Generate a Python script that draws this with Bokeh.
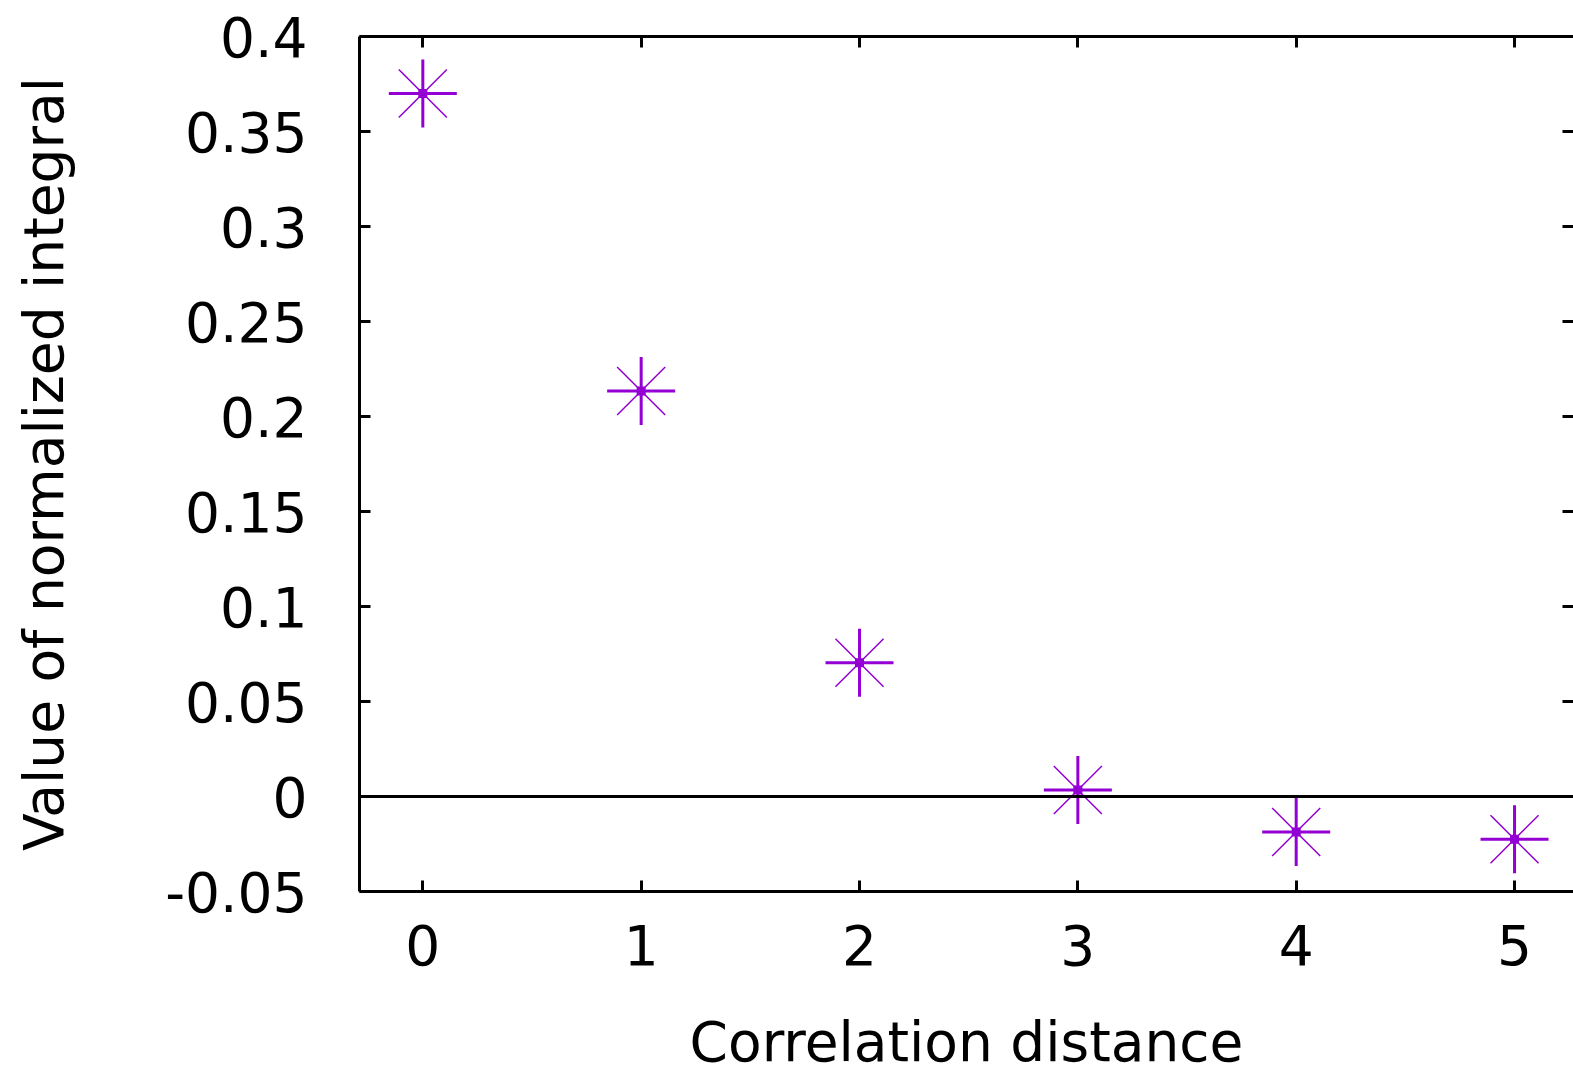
from bokeh.plotting import figure
from bokeh.models import LinearAxis, FixedTicker, Range1d, Span
from bokeh.embed import file_html
from bokeh.resources import INLINE

# ---- data ----
distance = [0, 1, 2, 3, 4, 5]
integral = [0.370, 0.2134, 0.0704, 0.0034, -0.0187, -0.0225]

x_ticks = [0, 1, 2, 3, 4, 5]
x_tick_labels = ["0", "1", "2", "3", "4", "5"]
y_ticks = [-0.05, 0, 0.05, 0.1, 0.15, 0.2, 0.25, 0.3, 0.35, 0.4]
y_tick_labels = ["-0.05", "0", "0.05", "0.1", "0.15", "0.2", "0.25", "0.3", "0.35", "0.4"]

x_title = "Correlation distance"
y_title = "Value of normalized integral"

VIOLET = "#9400D3"
FONT = "DejaVu Sans"
FS = "55px"

p = figure(width=1573, height=1077, output_backend="svg", toolbar_location=None,
           x_range=Range1d(-0.29, 5.27), y_range=Range1d(-0.05, 0.4))
p.min_border_left = 359
p.min_border_right = 0
p.min_border_top = 36
p.min_border_bottom = 186
p.outline_line_color = None
p.grid.visible = False
p.background_fill_color = "white"
p.border_fill_color = "white"


def style_axis(ax, ticks, labels, show_labels=True, line=True):
    ax.ticker = FixedTicker(ticks=ticks)
    ax.axis_line_color = "black" if line else None
    ax.axis_line_width = 3
    ax.major_tick_in = 11
    ax.major_tick_out = 0
    ax.major_tick_line_color = "black"
    ax.major_tick_line_width = 3
    ax.minor_tick_line_color = None
    ax.major_label_text_font = FONT
    ax.major_label_text_color = "black"
    ax.axis_label_text_font = FONT
    ax.axis_label_text_font_style = "normal"
    ax.axis_label_text_color = "black"
    ax.axis_label_text_font_size = FS
    if show_labels:
        ax.major_label_overrides = {t: l for t, l in zip(ticks, labels)}
        ax.major_label_text_font_size = FS
    else:
        ax.major_label_overrides = {t: "" for t in ticks}
        ax.major_label_text_font_size = "1px"
        ax.major_label_standoff = 0


xa = p.xaxis[0]
style_axis(xa, x_ticks, x_tick_labels)
xa.major_label_standoff = 33
xa.axis_label = x_title
xa.axis_label_standoff = 42

ya = p.yaxis[0]
style_axis(ya, y_ticks, y_tick_labels)
ya.major_label_standoff = 52
ya.axis_label = y_title
ya.axis_label_standoff = 86

top = LinearAxis()
style_axis(top, x_ticks, x_tick_labels, show_labels=False)
p.add_layout(top, "above")

right = LinearAxis()
style_axis(right, y_ticks, y_tick_labels, show_labels=False, line=False)
p.add_layout(right, "right")

p.add_layout(Span(location=0, dimension="width", line_color="black", line_width=3))

p.scatter(distance, integral, marker="cross", size=68, line_color=VIOLET, line_width=3)
p.scatter(distance, integral, marker="x", size=68, line_color=VIOLET, line_width=1.5)
p.scatter(distance, integral, marker="square", size=9, fill_color=VIOLET, line_color=None)

open("out.html", "w").write(file_html(p, INLINE))
